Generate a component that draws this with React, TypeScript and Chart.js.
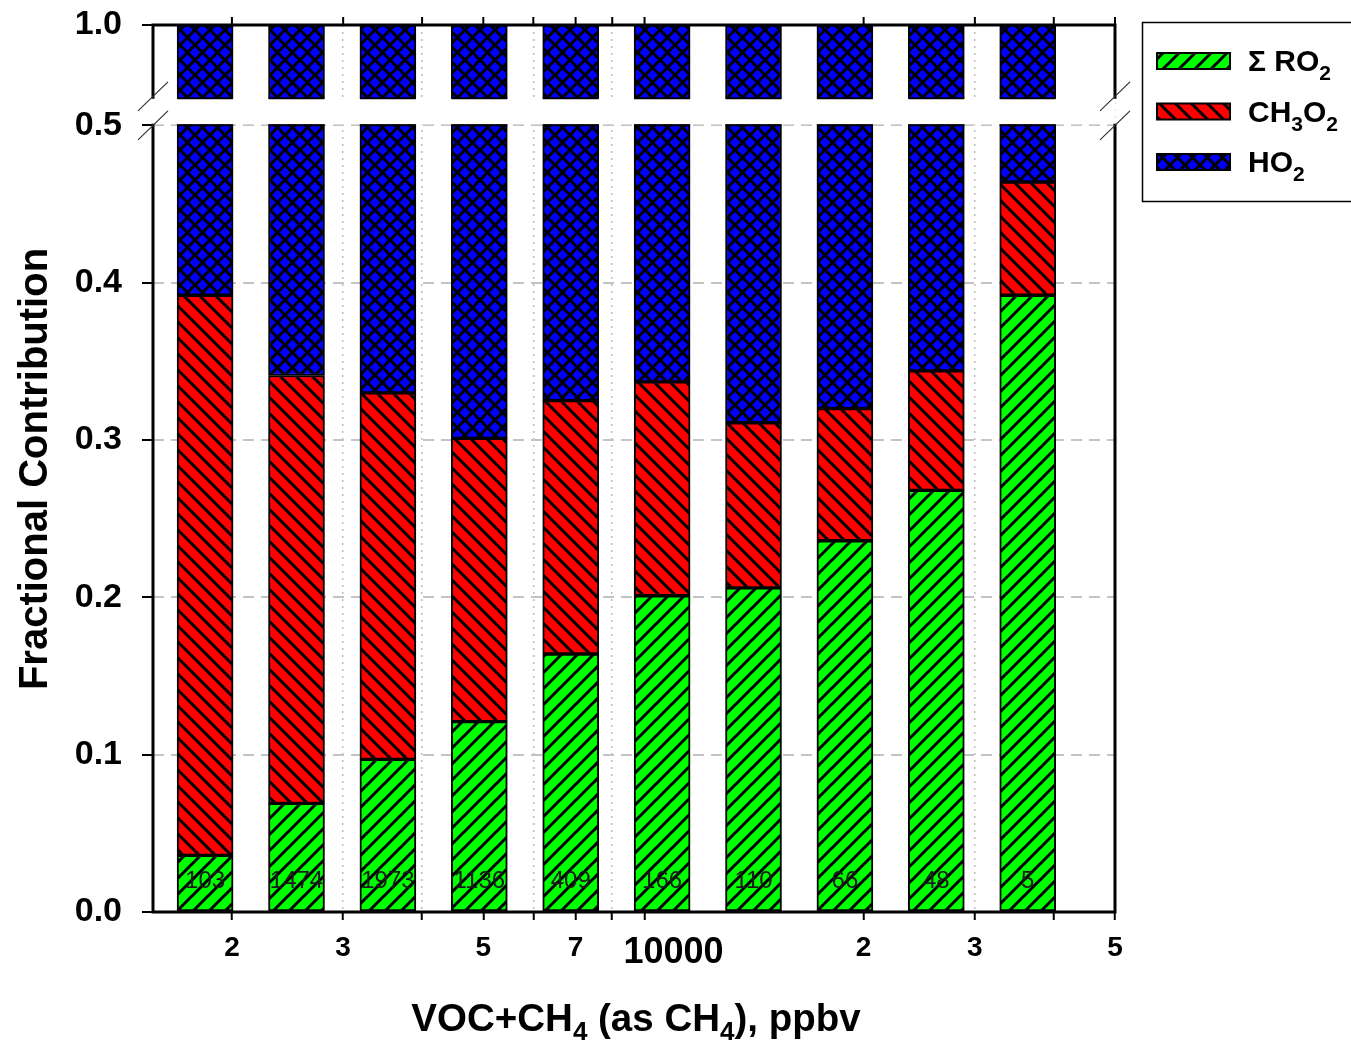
import React, { useEffect, useRef } from 'react';
import { Chart, registerables, LinearScale } from 'chart.js';

Chart.register(...registerables);

// ---------------- data ----------------
const sampleCounts = ['103', '1474', '1973', '1136', '409', '166', '110', '66', '48', '5'];
const sumRO2 = [0.036, 0.069, 0.097, 0.121, 0.164, 0.201, 0.206, 0.236, 0.268, 0.392];
const ch3o2 = [0.356, 0.272, 0.233, 0.180, 0.161, 0.136, 0.105, 0.084, 0.076, 0.072];
const ho2 = [0.608, 0.659, 0.670, 0.699, 0.675, 0.663, 0.689, 0.680, 0.656, 0.536];

const yTickValues = [0, 0.1, 0.2, 0.3, 0.4, 0.5, 1.0];
const xTickValues = [2000, 3000, 4000, 5000, 6000, 7000, 8000, 9000, 10000, 20000, 30000, 40000, 50000];
const xTickLabels = ['2', '3', '', '5', '', '7', '', '', '10000', '2', '3', '', '5'];
const xAxisMin = 1500;
const xAxisMax = 50000;

type Run = [string, boolean];
const legendLabels: Run[][] = [
  [['\u03A3 RO', false], ['2', true]],
  [['CH', false], ['3', true], ['O', false], ['2', true]],
  [['HO', false], ['2', true]],
];
const xTitleRuns: Run[] = [['VOC+CH', false], ['4', true], [' (as CH', false], ['4', true], ['), ppbv', false]];
const yTitle = 'Fractional Contribution';

// ---------------- axis break ----------------
const BREAK_LO = 0.5;
const BREAK_HI = 0.954;
const GAP_PX = 28;

const FONT = "'Liberation Sans', Arial, Helvetica, sans-serif";

class BrokenLinearScale extends LinearScale {
  static id = 'brokenLinear';
  getPixelForValue(value: any): number {
    if (value === null || value === undefined || isNaN(value)) return NaN;
    const self: any = this;
    const top = self.top;
    const bottom = self.bottom;
    const min = self.min;
    const max = self.max;
    const k = (bottom - top - GAP_PX) / (BREAK_LO - min + (max - BREAK_HI));
    const loTop = bottom - (BREAK_LO - min) * k;
    if (value <= BREAK_LO) return bottom - (value - min) * k;
    if (value >= BREAK_HI) return loTop - GAP_PX - (value - BREAK_HI) * k;
    return loTop - ((value - BREAK_LO) / (BREAK_HI - BREAK_LO)) * GAP_PX;
  }
  getValueForPixel(pixel: number): number {
    const self: any = this;
    const top = self.top;
    const bottom = self.bottom;
    const min = self.min;
    const max = self.max;
    const k = (bottom - top - GAP_PX) / (BREAK_LO - min + (max - BREAK_HI));
    const loTop = bottom - (BREAK_LO - min) * k;
    if (pixel >= loTop) return min + (bottom - pixel) / k;
    if (pixel <= loTop - GAP_PX) return BREAK_HI + (loTop - GAP_PX - pixel) / k;
    return BREAK_LO + ((loTop - pixel) / GAP_PX) * (BREAK_HI - BREAK_LO);
  }
}
Chart.register(BrokenLinearScale as any);

function makePattern(ctx: CanvasRenderingContext2D, bg: string, kind: 'fwd' | 'back' | 'cross', s: number, lw: number) {
  const c = document.createElement('canvas');
  c.width = s;
  c.height = s;
  const g = c.getContext('2d')!;
  g.fillStyle = bg;
  g.fillRect(0, 0, s, s);
  g.strokeStyle = '#000';
  g.lineWidth = lw;
  const fwd = () => {
    for (const cc of [0, s, 2 * s]) {
      g.beginPath();
      g.moveTo(cc + 3, -3);
      g.lineTo(cc - s - 3, s + 3);
      g.stroke();
    }
  };
  const back = () => {
    for (const cc of [-s, 0, s]) {
      g.beginPath();
      g.moveTo(cc - 3, -3);
      g.lineTo(cc + s + 3, s + 3);
      g.stroke();
    }
  };
  if (kind === 'fwd' || kind === 'cross') fwd();
  if (kind === 'back' || kind === 'cross') back();
  return ctx.createPattern(c, 'repeat') as CanvasPattern;
}

function drawRuns(
  ctx: CanvasRenderingContext2D,
  runs: Run[],
  x: number,
  y: number,
  size: number,
  subSize: number,
  drop: number,
  align: 'left' | 'center'
) {
  ctx.textAlign = 'left';
  ctx.textBaseline = 'alphabetic';
  const widths = runs.map(([t, sub]) => {
    ctx.font = `bold ${sub ? subSize : size}px ${FONT}`;
    return ctx.measureText(t).width;
  });
  const total = widths.reduce((a, b) => a + b, 0);
  let cx = align === 'center' ? x - total / 2 : x;
  runs.forEach(([t, sub], i) => {
    ctx.font = `bold ${sub ? subSize : size}px ${FONT}`;
    ctx.fillText(t, cx, sub ? y + drop : y);
    cx += widths[i];
  });
}

export default function App() {
  const canvasRef = useRef<HTMLCanvasElement | null>(null);

  useEffect(() => {
    const canvas = canvasRef.current;
    if (!canvas) return;
    const ctx0 = canvas.getContext('2d')!;
    const patGreen = makePattern(ctx0, '#00ff00', 'fwd', 16, 3);
    const patRed = makePattern(ctx0, '#ff0000', 'back', 16, 3);
    const patBlue = makePattern(ctx0, '#0000ff', 'cross', 15, 3);
    const patterns = [patGreen, patRed, patBlue];

    const decor = {
      id: 'decor',
      afterDatasetsDraw(chart: any) {
        const { ctx, chartArea: ca, scales } = chart;
        const ys = scales.y;
        const xb = scales.xb;
        const yHi = ys.getPixelForValue(BREAK_HI);
        const yLo = ys.getPixelForValue(BREAK_LO);
        ctx.save();
        // white gap of the axis break
        ctx.fillStyle = '#ffffff';
        ctx.fillRect(ca.left, yHi + 1, ca.right - ca.left, yLo - yHi - 2);
        // bar edges at the break
        const meta = chart.getDatasetMeta(2);
        ctx.strokeStyle = '#000';
        ctx.lineWidth = 2;
        meta.data.forEach((bar: any) => {
          const p = bar.getProps(['x', 'width'], true);
          ctx.beginPath();
          ctx.moveTo(p.x - p.width / 2, yHi + 1);
          ctx.lineTo(p.x + p.width / 2, yHi + 1);
          ctx.moveTo(p.x - p.width / 2, yLo);
          ctx.lineTo(p.x + p.width / 2, yLo);
          ctx.stroke();
        });
        // sample counts inside bars
        ctx.fillStyle = '#1a1a1a';
        ctx.font = `24px ${FONT}`;
        ctx.textAlign = 'center';
        ctx.textBaseline = 'middle';
        sampleCounts.forEach((t, i) => {
          ctx.fillText(t, xb.getPixelForValue(i), ca.bottom - 31);
        });
        ctx.restore();
      },
      afterDraw(chart: any) {
        const { ctx, chartArea: ca, scales } = chart;
        const ys = scales.y;
        const xl = scales.x;
        const yHi = ys.getPixelForValue(BREAK_HI);
        const yLo = ys.getPixelForValue(BREAK_LO);
        ctx.save();
        // frame
        ctx.strokeStyle = '#000';
        ctx.lineWidth = 3;
        ctx.lineCap = 'square';
        ctx.beginPath();
        ctx.moveTo(ca.left, ca.top);
        ctx.lineTo(ca.right, ca.top);
        ctx.moveTo(ca.left, ca.bottom);
        ctx.lineTo(ca.right, ca.bottom);
        for (const x of [ca.left, ca.right]) {
          ctx.moveTo(x, ca.top);
          ctx.lineTo(x, yHi);
          ctx.moveTo(x, yLo);
          ctx.lineTo(x, ca.bottom);
        }
        ctx.stroke();
        // top axis ticks
        ctx.lineWidth = 2;
        ctx.lineCap = 'butt';
        ctx.beginPath();
        xTickValues.forEach((v) => {
          if (v === 10000) return;
          const x = xl.getPixelForValue(v);
          ctx.moveTo(x, ca.top);
          ctx.lineTo(x, ca.top - 8);
        });
        ctx.stroke();
        // break slashes
        ctx.strokeStyle = '#333';
        ctx.lineWidth = 1.2;
        ctx.beginPath();
        for (const x of [ca.left, ca.right]) {
          for (const c of [yHi - 1, yLo]) {
            ctx.moveTo(x - 15, c + 14.5);
            ctx.lineTo(x + 15, c - 14.5);
          }
        }
        ctx.stroke();

        // legend
        ctx.strokeStyle = '#000';
        ctx.lineWidth = 1.5;
        ctx.strokeRect(1142.5, 22.5, 240, 179);
        const centers = [61, 111.5, 162];
        legendLabels.forEach((runs, i) => {
          const cy = centers[i];
          ctx.fillStyle = patterns[i];
          ctx.fillRect(1157, cy - 8, 73, 16);
          ctx.lineWidth = 2;
          ctx.strokeStyle = '#000';
          ctx.strokeRect(1157, cy - 8, 73, 16);
          ctx.fillStyle = '#000';
          drawRuns(ctx, runs, 1248, cy + 10, 30, 21, 9, 'left');
        });

        // axis titles
        ctx.fillStyle = '#000';
        drawRuns(ctx, xTitleRuns, 636, 1031, 38.5, 26, 9, 'center');
        ctx.save();
        ctx.translate(47, 469);
        ctx.rotate(-Math.PI / 2);
        ctx.font = `bold 40px ${FONT}`;
        ctx.textAlign = 'center';
        ctx.textBaseline = 'alphabetic';
        ctx.fillText(yTitle, 0, 0);
        ctx.restore();
        ctx.restore();
      },
    };

    const mk = (label: string, vals: number[], i: number) => ({
      label,
      data: vals.map((v, idx) => ({ x: idx, y: v })),
      backgroundColor: patterns[i],
      borderColor: '#000',
      borderWidth: 2,
      borderSkipped: false,
      barThickness: 56,
      xAxisID: 'xb',
      yAxisID: 'y',
      stack: 's',
    });

    const chart = new Chart(canvas, {
      type: 'bar',
      data: {
        datasets: [
          mk('\u03A3 RO2', sumRO2, 0),
          mk('CH3O2', ch3o2, 1),
          mk('HO2', ho2, 2),
        ] as any,
      },
      options: {
        responsive: false,
        devicePixelRatio: 1,
        animation: false,
        layout: { padding: { top: 25, right: 236, left: 0, bottom: 0 } },
        plugins: { legend: { display: false }, tooltip: { enabled: false } },
        scales: {
          xb: {
            type: 'linear',
            display: false,
            min: -0.57,
            max: 9.955,
            stacked: true,
            offset: false,
            grid: { display: false, offset: false },
          },
          x: {
            type: 'logarithmic',
            position: 'bottom',
            min: xAxisMin,
            max: xAxisMax,
            bounds: 'data',
            offset: false,
            afterBuildTicks: (s: any) => {
              s.ticks = xTickValues.map((v) => ({ value: v }));
            },
            afterFit: (s: any) => {
              s.height = 129;
              s.paddingLeft = 0;
              s.paddingRight = 0;
            },
            ticks: {
              autoSkip: false,
              maxRotation: 0,
              minRotation: 0,
              padding: 11,
              color: '#000',
              callback: (v: any) => {
                const idx = xTickValues.indexOf(Number(v));
                return idx >= 0 ? xTickLabels[idx] : '';
              },
              font: (c: any) => ({
                family: FONT,
                weight: 'bold',
                size: c.tick && c.tick.value === 10000 ? 36 : 28,
              }),
            },
            grid: {
              offset: false,
              color: '#bdbdbd',
              lineWidth: 1.5,
              tickLength: 8,
              tickWidth: 2,
              tickColor: (c: any) => (c.tick && c.tick.value === 10000 ? 'rgba(0,0,0,0)' : '#000'),
            },
            border: { display: false, dash: [2, 5] },
          },
          y: {
            type: 'brokenLinear',
            position: 'left',
            stacked: true,
            min: 0,
            max: 1,
            afterBuildTicks: (s: any) => {
              s.ticks = yTickValues.map((v) => ({ value: v }));
            },
            afterFit: (s: any) => {
              s.width = 153;
              s.paddingTop = 0;
              s.paddingBottom = 0;
            },
            ticks: {
              color: '#000',
              padding: 20,
              callback: (v: any) => Number(v).toFixed(1),
              font: { family: FONT, size: 34, weight: 'bold' },
            },
            grid: {
              color: '#c3c3c3',
              lineWidth: 2,
              tickColor: '#000',
              tickLength: 11,
              tickWidth: 2,
            },
            border: { display: false, dash: [11, 7] },
          },
        } as any,
      },
      plugins: [decor],
    } as any);

    return () => {
      chart.destroy();
    };
  }, []);

  return (
    <div style={{ position: 'absolute', left: 0, top: 0, width: 1351, height: 1041, background: '#fff' }}>
      <canvas ref={canvasRef} width={1351} height={1041} style={{ display: 'block', width: 1351, height: 1041 }} />
    </div>
  );
}
